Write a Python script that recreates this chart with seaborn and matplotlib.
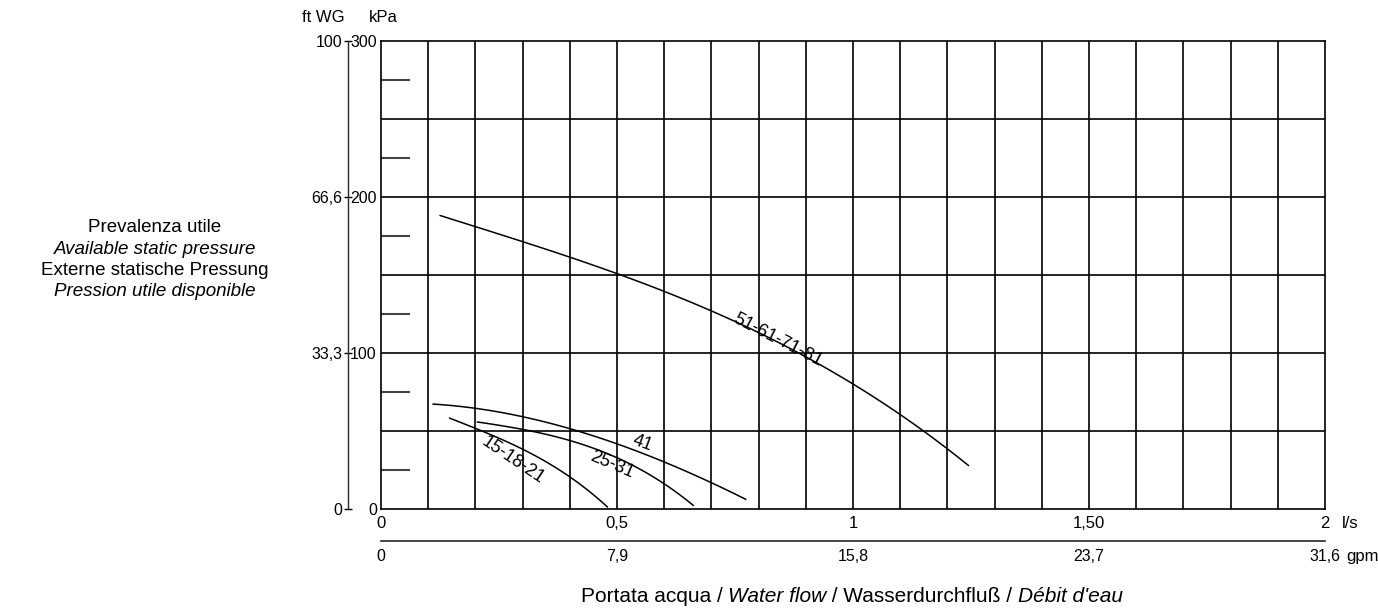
import numpy as np
import pandas as pd
import matplotlib
matplotlib.use("Agg")
import matplotlib.pyplot as plt
import seaborn as sns

# pump curves: flow (l/s) vs available pressure (kPa)
flow_51 = [0.125, 0.3, 0.5, 0.74, 0.9, 1.0, 1.1, 1.245]
kpa_51 = [188, 172, 150, 122, 98, 80, 60, 28]
flow_41 = [0.11, 0.25, 0.406, 0.55, 0.607, 0.773]
kpa_41 = [67, 63, 50, 36, 30, 6]
flow_25 = [0.204, 0.306, 0.406, 0.5, 0.607, 0.662]
kpa_25 = [56, 50, 44, 33, 14, 2.6]
flow_15 = [0.145, 0.204, 0.306, 0.406, 0.48]
kpa_15 = [58, 52, 36.5, 20, 1]

series_names = ["51-61-71-81", "41", "25-31", "15-18-21"]

ls_ticks = [0, 0.5, 1, 1.5, 2]
ls_labels = ["0", "0,5", "1", "1,50", "2"]
gpm_ticks = [0, 7.9, 15.8, 23.7, 31.6]
gpm_labels = ["0", "7,9", "15,8", "23,7", "31,6"]
kpa_ticks = [0, 100, 200, 300]
kpa_labels = ["0", "100", "200", "300"]
ft_ticks = [0, 33.3, 66.6, 100]
ft_labels = ["0", "33,3", "66,6", "100"]

frames = []
for name, fx, fy in zip(series_names, [flow_51, flow_41, flow_25, flow_15],
                        [kpa_51, kpa_41, kpa_25, kpa_15]):
    frames.append(pd.DataFrame({"flow": fx, "kpa": fy, "model": name}))
df = pd.concat(frames, ignore_index=True)

sns.set_style("white")
plt.rcParams["font.family"] = ["Liberation Sans", "DejaVu Sans"]
plt.rcParams["text.color"] = "black"
plt.rcParams["xtick.labelcolor"] = "black"
plt.rcParams["ytick.labelcolor"] = "black"
plt.rcParams["xtick.color"] = "black"
plt.rcParams["ytick.color"] = "black"

fig = plt.figure(figsize=(13.78, 6.10), dpi=100)
ax = fig.add_axes([381 / 1378, 1 - 509 / 610, 944 / 1378, 468 / 610])

# smooth each curve through the read points
for name in series_names:
    sub = df[df.model == name]
    xs = np.linspace(sub.flow.min(), sub.flow.max(), 80)
    coef = np.polyfit(sub.flow, sub.kpa, 3)
    smooth = pd.DataFrame({"flow": xs, "kpa": np.polyval(coef, xs)})
    sns.lineplot(data=smooth, x="flow", y="kpa", ax=ax, color="black",
                 lw=1.1, estimator=None, sort=False)

ax.set_xlim(0, 2)
ax.set_ylim(0, 300)

# grid
for gx in np.arange(0.1, 2.0, 0.1):
    ax.axvline(gx, color="black", lw=1.2, zorder=0)
for gy in range(50, 300, 50):
    ax.axhline(gy, color="black", lw=1.2, zorder=0)
for s in ax.spines.values():
    s.set_color("black")
    s.set_linewidth(1.2)

ax.set_xticks(ls_ticks)
ax.set_xticklabels(ls_labels, fontsize=12)
ax.set_yticks(kpa_ticks)
ax.set_yticklabels(kpa_labels, fontsize=11.5)
ax.set_yticks(range(25, 300, 50), minor=True)
ax.tick_params(which="major", length=0)
ax.tick_params(axis="y", which="major", pad=3)
ax.tick_params(axis="x", which="major", pad=5)
ax.tick_params(axis="y", which="minor", direction="in", length=21, width=1.5,
               color="#444444", left=True)
ax.set_xlabel("")
ax.set_ylabel("")

# ft WG axis
ft = ax.secondary_yaxis(-0.035, functions=(lambda k: k / 3.0, lambda f: f * 3.0))
ft.set_yticks(ft_ticks)
ft.set_yticklabels(ft_labels, fontsize=11.5)
ft.tick_params(direction="inout", length=6, width=1, pad=1)
ft.spines["left"].set_linewidth(1)

# gpm axis
gpm = ax.secondary_xaxis(-0.068, functions=(lambda l: l * 15.8, lambda g: g / 15.8))
gpm.set_xticks(gpm_ticks)
gpm.set_xticklabels(gpm_labels, fontsize=11.5)
gpm.tick_params(length=0, pad=6)
gpm.spines["bottom"].set_linewidth(1.2)

# curve labels
ax.text(0.841, 108, "51-61-71-81", rotation=-27, fontsize=13, ha="center", va="center")
ax.text(0.555, 42, "41", rotation=-20, fontsize=13, ha="center", va="center")
ax.text(0.49, 28, "25-31", rotation=-23, fontsize=13, ha="center", va="center")
ax.text(0.28, 31, "15-18-21", rotation=-34, fontsize=13, ha="center", va="center")

# unit labels
fig.text(345 / 1378, 1 - 17 / 610, "ft WG", fontsize=12, ha="right", va="center")
fig.text(369 / 1378, 1 - 17 / 610, "kPa", fontsize=12, ha="left", va="center")
fig.text(1342 / 1378, 1 - 523 / 610, "l/s", fontsize=12, ha="left", va="center")
fig.text(1346 / 1378, 1 - 556 / 610, "gpm", fontsize=12, ha="left", va="center")

# y description
desc = [("Prevalenza utile", "normal"), ("Available static pressure", "italic"),
        ("Externe statische Pressung", "normal"), ("Pression utile disponible", "italic")]
for i, (t, st) in enumerate(desc):
    fig.text(155 / 1378, 1 - (228 + 21 * i) / 610, t, style=st, fontsize=13.5,
             ha="center", va="center")

# x description with mixed styles
parts = [("Portata acqua / ", "normal"), ("Water flow", "italic"),
         (" / Wasserdurchfluß / ", "normal"), ("Débit d'eau", "italic")]
fig.canvas.draw()
renderer = fig.canvas.get_renderer()
texts = []
widths = []
for t, st in parts:
    tx = fig.text(0, 1 - 596 / 610, t, style=st, fontsize=15, va="center")
    widths.append(tx.get_window_extent(renderer).width)
    texts.append(tx)
x0 = 852 - sum(widths) / 2
for tx, w in zip(texts, widths):
    tx.set_x(x0 / 1378)
    x0 += w

fig.savefig("out.png", dpi=100)
